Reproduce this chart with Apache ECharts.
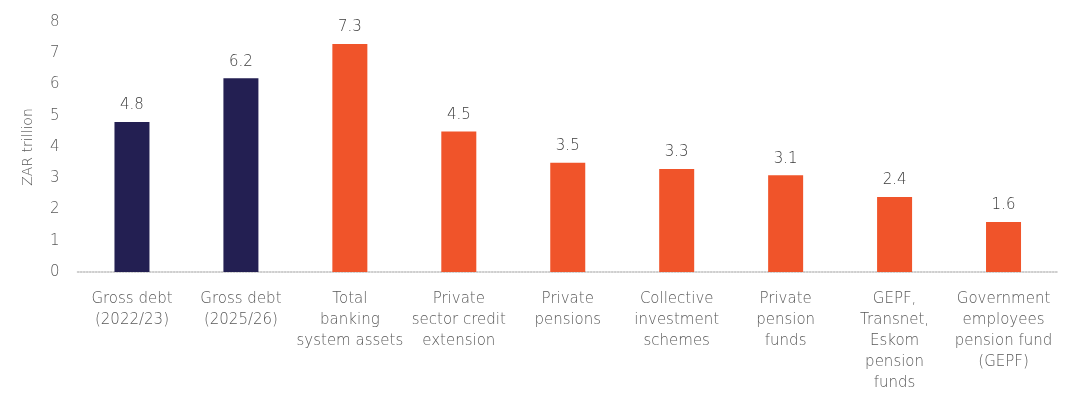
<!DOCTYPE html>
<html>
<head>
<meta charset="utf-8">
<script src="https://cdn.jsdelivr.net/npm/echarts@6/dist/echarts.min.js"></script>
<style>
  html, body { margin: 0; padding: 0; background: #fff; }
  #chart { width: 1080px; height: 399px; }
</style>
</head>
<body>
<div id="chart"></div>
<script>
'use strict';
/* ZAR trillion comparison bar chart */

var categories = [
  'Gross debt\n(2022/23)',
  'Gross debt\n(2025/26)',
  'Total\nbanking\nsystem assets',
  'Private\nsector credit\nextension',
  'Private\npensions',
  'Collective\ninvestment\nschemes',
  'Private\npension\nfunds',
  'GEPF,\nTransnet,\nEskom\npension\nfunds',
  'Government\nemployees\npension fund\n(GEPF)'
];
var values = [4.8, 6.2, 7.3, 4.5, 3.5, 3.3, 3.1, 2.4, 1.6];
var isDebt = [true, true, false, false, false, false, false, false, false];
var yTicks = [0, 1, 2, 3, 4, 5, 6, 7, 8];

var NAVY = '#231F52';
var ORANGE = '#F0542A';
var TEXT = '#595959';
var FONT = 'DejaVu Sans';

var barData = [];
for (var i = 0; i < values.length; i++) {
  barData.push({
    value: values[i],
    itemStyle: { color: isDebt[i] ? NAVY : ORANGE }
  });
}

var chart = echarts.init(document.getElementById('chart'));
var opt = {
  animation: false,
  grid: { left: 77.5, right: 22, top: 22, bottom: 127 },
  xAxis: {
    type: 'category',
    data: categories,
    axisLine: { lineStyle: { color: '#BFBFBF', type: 'dotted', width: 1.5 } },
    axisTick: { show: false },
    axisLabel: {
      interval: 0,
      color: TEXT,
      fontFamily: FONT,
      fontWeight: 200,
      fontSize: 15,
      lineHeight: 21,
      margin: 17
    }
  },
  yAxis: {
    type: 'value',
    min: yTicks[0],
    max: yTicks[yTicks.length - 1],
    interval: 1,
    name: 'ZAR trillion',
    nameLocation: 'middle',
    nameGap: 42,
    nameTextStyle: { color: TEXT, fontFamily: FONT, fontWeight: 200, fontSize: 14 },
    axisLine: { show: false },
    axisTick: { show: false },
    splitLine: { show: false },
    axisLabel: { color: TEXT, fontFamily: FONT, fontWeight: 200, fontSize: 15, margin: 18 }
  },
  series: [{
    type: 'bar',
    data: barData,
    barWidth: 35,
    label: {
      show: true,
      position: 'top',
      distance: 9,
      color: '#3A3A3A',
      fontFamily: FONT,
      fontWeight: 200,
      fontSize: 15,
      formatter: function(p) { return p.value.toFixed(1); }
    }
  }]
};
chart.setOption(opt);
</script>
</body>
</html>
